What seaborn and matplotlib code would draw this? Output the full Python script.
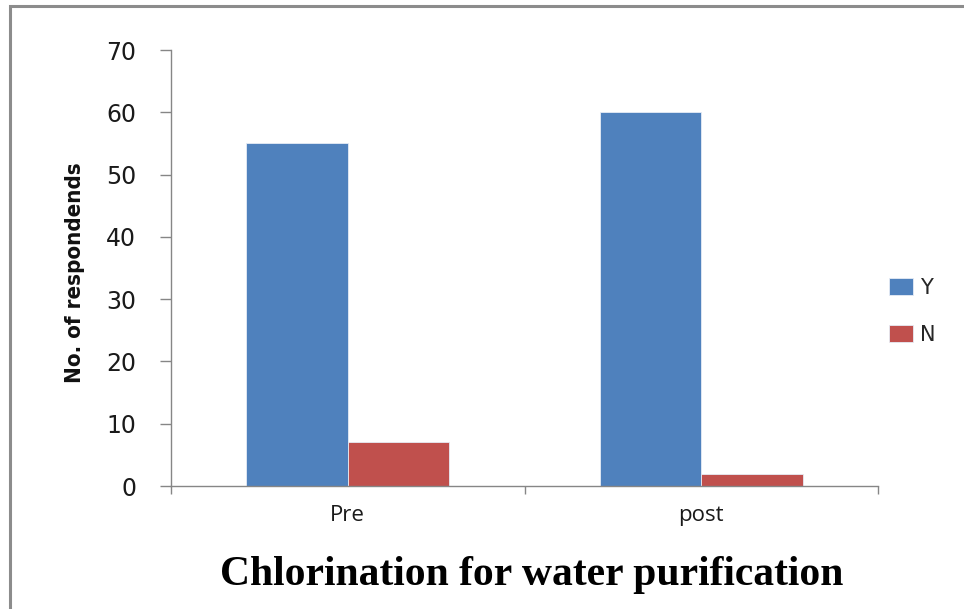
import matplotlib
matplotlib.use("Agg")
import matplotlib.pyplot as plt
import seaborn as sns
import pandas as pd
from matplotlib.patches import Rectangle

categories = ["Pre", "post"]
series_names = ["Y", "N"]
y_values = [55, 60]
n_values = [7, 2]
y_ticks = [0, 10, 20, 30, 40, 50, 60, 70]

df = pd.DataFrame({
    "cat": categories * 2,
    "series": [series_names[0]] * len(categories) + [series_names[1]] * len(categories),
    "value": y_values + n_values,
})

sns.set_theme(style="white")
plt.rcParams["font.family"] = ["DejaVu Sans"]

fig = plt.figure(figsize=(9.64, 6.09), dpi=100)
ax = fig.add_axes([171 / 964, 1 - 486 / 609, (878 - 171) / 964, (486 - 50) / 609])

palette = {"Y": "#4F81BD", "N": "#C0504D"}
sns.barplot(data=df, x="cat", y="value", hue="series", order=categories,
            hue_order=series_names, palette=palette, width=0.575,
            saturation=1, edgecolor="#E6ECF5", linewidth=0.6, ax=ax, legend=True)

ax.set_xlim(-0.5, 1.5)
ax.set_ylim(0, 70)
ax.set_yticks(y_ticks)
ax.set_yticklabels([str(t) for t in y_ticks], fontsize=17, color="#1a1a1a")
ax.set_xticks([0, 1])
ax.set_xticklabels(categories, fontsize=16, color="#1a1a1a", family="Open Sans")
ax.set_xticks([-0.5, 0.5, 1.5], minor=True)

for s in ["top", "right"]:
    ax.spines[s].set_visible(False)
for s in ["left", "bottom"]:
    ax.spines[s].set_color("#868686")
    ax.spines[s].set_linewidth(1.0)

ax.tick_params(axis="y", which="major", direction="out", length=8, width=1,
               color="#868686", pad=17, left=True)
ax.tick_params(axis="x", which="major", length=0, pad=14)
ax.tick_params(axis="x", which="minor", direction="out", length=6, width=1,
               color="#868686", bottom=True)

ax.set_ylabel("No. of respondends", fontsize=16, color="#111111",
              fontweight="bold", fontstretch="condensed")
ax.yaxis.set_label_coords(-0.122, 0.49)
ax.set_xlabel("")
fig.text(0.552, 1 - 585 / 609, "Chlorination for water purification", fontsize=30,
         family="Liberation Serif", fontweight="bold", color="black",
         ha="center", va="baseline")

handles, labels = ax.get_legend_handles_labels()
ax.get_legend().remove()
fig.legend(handles, labels, loc="center left", bbox_to_anchor=(889 / 964, 0.489),
           frameon=False, fontsize=15, handlelength=1.15, handleheight=0.82,
           labelspacing=1.3, handletextpad=0.35, borderaxespad=0, borderpad=0)

fig.patches.append(Rectangle((10 / 964, -0.1), 1.2, 1 - 6 / 609 + 0.1,
                             transform=fig.transFigure, fill=False,
                             edgecolor="#8C8C8C", linewidth=2.2, zorder=10))

fig.savefig("out.png", dpi=100, facecolor="white")
